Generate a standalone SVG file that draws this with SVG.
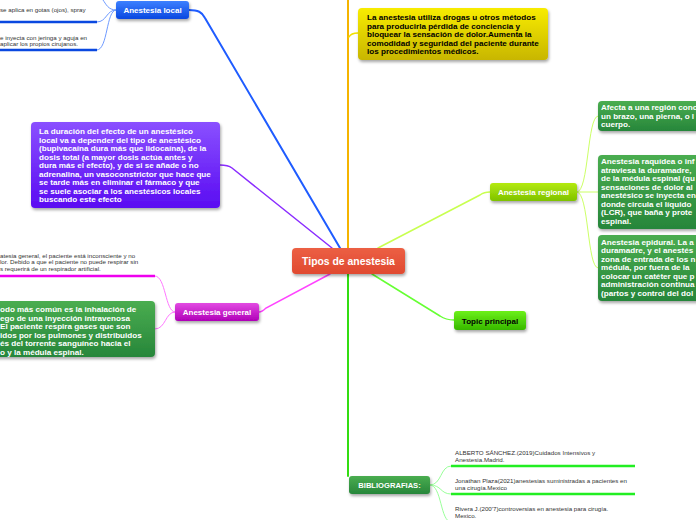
<svg xmlns="http://www.w3.org/2000/svg" width="696" height="520" viewBox="0 0 696 520">
<style>
.t{font-family:"Liberation Sans",Arial,sans-serif;font-weight:bold;font-size:8.1px;fill:#fff}
.tk{fill:#000}
.n{font-family:"Liberation Sans",Arial,sans-serif;font-size:6.2px;fill:#333}
.lbl{font-family:"Liberation Sans",Arial,sans-serif;font-weight:bold;font-size:8px;fill:#fff;text-anchor:middle}
.big{font-size:10.4px}
.bib{font-size:7.6px}
.c{fill:none;stroke-linecap:round}
</style>
<defs>
<filter id="sh" x="-10%" y="-20%" width="130%" height="160%"><feDropShadow dx="1" dy="2" stdDeviation="1.5" flood-color="#000" flood-opacity="0.35"/></filter>
<linearGradient id="gRed" x1="0" y1="0" x2="0" y2="1"><stop offset="0" stop-color="#ec5f44"/><stop offset="1" stop-color="#e04a30"/></linearGradient>
<linearGradient id="gBlue" x1="0" y1="0" x2="0" y2="1"><stop offset="0" stop-color="#3d80ff"/><stop offset="1" stop-color="#0a48e0"/></linearGradient>
<linearGradient id="gPur" x1="0" y1="0" x2="0" y2="1"><stop offset="0" stop-color="#8a50ff"/><stop offset="1" stop-color="#5a0cf2"/></linearGradient>
<linearGradient id="gYel" x1="0" y1="0" x2="0" y2="1"><stop offset="0" stop-color="#f8ec00"/><stop offset="1" stop-color="#c8b600"/></linearGradient>
<linearGradient id="gMag" x1="0" y1="0" x2="0" y2="1"><stop offset="0" stop-color="#e24ae2"/><stop offset="1" stop-color="#b000b8"/></linearGradient>
<linearGradient id="gGrn" x1="0" y1="0" x2="0" y2="1"><stop offset="0" stop-color="#4aad50"/><stop offset="1" stop-color="#27863a"/></linearGradient>
<linearGradient id="gReg" x1="0" y1="0" x2="0" y2="1"><stop offset="0" stop-color="#b4ea10"/><stop offset="1" stop-color="#7ec200"/></linearGradient>
<linearGradient id="gTop" x1="0" y1="0" x2="0" y2="1"><stop offset="0" stop-color="#6cf018"/><stop offset="1" stop-color="#36b800"/></linearGradient>
</defs>

<g id="connectors">
<path class="c" d="M340,248 L205,18 C202,12 198,10 189,10" stroke="#1f5cff" stroke-width="2"/>
<path class="c" d="M348,248 L348,0" stroke="#f5b400" stroke-width="2"/>
<path class="c" d="M349,37 Q351,33 358,33" stroke="#f0e000" stroke-width="1.5"/>
<path class="c" d="M332,248 L232,168 Q228,165 220,165" stroke="#8a2cff" stroke-width="1.5"/>
<path class="c" d="M378,248 L480,195 Q484,192 490,192" stroke="#c8ff50" stroke-width="1.5"/>
<path class="c" d="M348,274 L348,476" stroke="#33dd11" stroke-width="2"/>
<path class="c" d="M372,274 L440,316 Q446,320 454,320" stroke="#66ff33" stroke-width="1.5"/>
<path class="c" d="M330,274 L266,308 Q262,312 259,312" stroke="#ff44ff" stroke-width="1.5"/>
<path class="c" d="M116,10 C108,10 106,4 103,0" stroke="#6f9bff" stroke-width="1"/>
<path class="c" d="M116,10 C106,10 107,22 97,22" stroke="#6f9bff" stroke-width="1"/>
<path class="c" d="M116,10 C106,10 108,50 97,50" stroke="#6f9bff" stroke-width="1"/>
<path class="c" d="M175,312 C165,312 166,276 155,276" stroke="#ff77ff" stroke-width="1"/>
<path class="c" d="M175,312 C165,312 166,329 155,329" stroke="#ff77ff" stroke-width="1"/>
<path class="c" d="M577,192 C589,192 587,116 598,116" stroke="#ccff66" stroke-width="1"/>
<path class="c" d="M577,192 L598,192" stroke="#ccff66" stroke-width="1"/>
<path class="c" d="M577,192 C589,192 587,268 598,268" stroke="#ccff66" stroke-width="1"/>
<path class="c" d="M430,485 C442,485 440,466 451,466" stroke="#99ff99" stroke-width="1"/>
<path class="c" d="M430,485 C442,485 440,494 451,494" stroke="#99ff99" stroke-width="1"/>
<path class="c" d="M430,485 C442,485 440,522 451,522" stroke="#99ff99" stroke-width="1"/>
</g>

<g id="central">
<rect x="292" y="248" width="113" height="26" rx="4" fill="url(#gRed)" filter="url(#sh)"/>
<text class="lbl big" x="348.5" y="265">Tipos de anestesia</text>
</g>

<g id="anestesia-local">
<rect x="116" y="1" width="73" height="18" rx="3" fill="url(#gBlue)" filter="url(#sh)"/>
<text class="lbl" x="152.5" y="13">Anestesia local</text>
</g>
<g id="local-topica">
<text class="n" x="0" y="12">se aplica en gotas (ojos), spray</text>
<line x1="0" y1="22" x2="97" y2="22" stroke="#0a48e0" stroke-width="2.5"/>
</g>
<g id="local-infiltracion">
<text class="n" x="0" y="40">e inyecta con jeringa y aguja en</text>
<text class="n" x="0" y="46">aplicar los propios cirujanos.</text>
<line x1="0" y1="50" x2="97" y2="50" stroke="#0a48e0" stroke-width="2.5"/>
</g>

<g id="definicion">
<rect x="358" y="8" width="190" height="52" rx="4" fill="url(#gYel)" filter="url(#sh)"/>
<text class="t tk" x="367" y="20">La anestesia utiliza drogas u otros métodos</text>
<text class="t tk" x="367" y="28.5">para producirla pérdida de conciencia y</text>
<text class="t tk" x="367" y="37">bloquear la sensación de dolor.Aumenta la</text>
<text class="t tk" x="367" y="45.5">comodidad y seguridad del paciente durante</text>
<text class="t tk" x="367" y="54">los procedimientos médicos.</text>
</g>

<g id="duracion">
<rect x="31" y="122" width="189" height="86" rx="4" fill="url(#gPur)" filter="url(#sh)"/>
<text class="t" x="39" y="134">La duración del efecto de un anestésico</text>
<text class="t" x="39" y="142.5">local va a depender del tipo de anestésico</text>
<text class="t" x="39" y="151">(bupivacaína dura más que lidocaína), de la</text>
<text class="t" x="39" y="159.5">dosis total (a mayor dosis actúa antes y</text>
<text class="t" x="39" y="168">dura más el efecto), y de si se añade o no</text>
<text class="t" x="39" y="176.5">adrenalina, un vasoconstrictor que hace que</text>
<text class="t" x="39" y="185">se tarde más en eliminar el fármaco y que</text>
<text class="t" x="39" y="193.5">se suele asociar a los anestésicos locales</text>
<text class="t" x="39" y="202">buscando este efecto</text>
</g>

<g id="anestesia-general">
<rect x="175" y="303" width="84" height="18" rx="3" fill="url(#gMag)" filter="url(#sh)"/>
<text class="lbl" x="217" y="315">Anestesia general</text>
</g>
<g id="general-definicion">
<text class="n" x="0" y="257.5">atesia general, el paciente está inconsciente y no</text>
<text class="n" x="0" y="264">lor. Debido a que el paciente no puede respirar sin</text>
<text class="n" x="0" y="270.5">s requerirá de un respirador artificial.</text>
<line x1="0" y1="276" x2="155" y2="276" stroke="#ee00ee" stroke-width="2.5"/>
</g>
<g id="general-metodo">
<rect x="-10" y="301" width="165" height="56" rx="4" fill="url(#gGrn)" filter="url(#sh)"/>
<text class="t" x="0" y="312">odo más común es la inhalación de</text>
<text class="t" x="0" y="320.5">ego de una inyección intravenosa</text>
<text class="t" x="0" y="329">El paciente respira gases que son</text>
<text class="t" x="0" y="337.5">idos por los pulmones y distribuidos</text>
<text class="t" x="0" y="346">és del torrente sanguíneo hacia el</text>
<text class="t" x="0" y="354.5">o y la médula espinal.</text>
</g>

<g id="anestesia-regional">
<rect x="490" y="183" width="87" height="18" rx="3" fill="url(#gReg)" filter="url(#sh)"/>
<text class="lbl" x="533.5" y="195">Anestesia regional</text>
</g>
<g id="regional-1">
<rect x="598" y="101" width="110" height="30" rx="4" fill="url(#gGrn)" filter="url(#sh)"/>
<text class="t" x="601" y="110">Afecta a una región conc</text>
<text class="t" x="601" y="118.5">un brazo, una pierna, o l</text>
<text class="t" x="601" y="127">cuerpo.</text>
</g>
<g id="regional-raquidea">
<rect x="598" y="155" width="110" height="74" rx="4" fill="url(#gGrn)" filter="url(#sh)"/>
<text class="t" x="601" y="164">Anestesia raquídea o inf</text>
<text class="t" x="601" y="172.5">atraviesa la duramadre,</text>
<text class="t" x="601" y="181">de la médula espinal (qu</text>
<text class="t" x="601" y="189.5">sensaciones de dolor al</text>
<text class="t" x="601" y="198">anestésico se inyecta en</text>
<text class="t" x="601" y="206.5">donde circula el líquido</text>
<text class="t" x="601" y="215">(LCR), que baña y prote</text>
<text class="t" x="601" y="223.5">espinal.</text>
</g>
<g id="regional-epidural">
<rect x="598" y="235" width="110" height="66" rx="4" fill="url(#gGrn)" filter="url(#sh)"/>
<text class="t" x="601" y="244.5">Anestesia epidural. La a</text>
<text class="t" x="601" y="253">duramadre, y el anestés</text>
<text class="t" x="601" y="261.5">zona de entrada de los n</text>
<text class="t" x="601" y="270">médula, por fuera de la</text>
<text class="t" x="601" y="278.5">colocar un catéter que p</text>
<text class="t" x="601" y="287">administración continua</text>
<text class="t" x="601" y="295.5">(partos y control del dol</text>
</g>

<g id="topic-principal">
<rect x="454" y="311" width="72" height="19" rx="3" fill="url(#gTop)" filter="url(#sh)"/>
<text class="lbl" x="490" y="323.5" style="fill:#000">Topic principal</text>
</g>

<g id="bibliografias">
<rect x="349" y="476" width="81" height="18" rx="3" fill="url(#gGrn)" filter="url(#sh)"/>
<text class="lbl bib" x="389.5" y="487.8">BIBLIOGRAFIAS:</text>
</g>
<g id="bib-1">
<text class="n" x="455" y="455">ALBERTO SÁNCHEZ.(2019)Cuidados Intensivos y</text>
<text class="n" x="455" y="462">Anestesia.Madrid.</text>
<line x1="451" y1="466" x2="635" y2="466" stroke="#22ee22" stroke-width="2.5"/>
</g>
<g id="bib-2">
<text class="n" x="455" y="483">Jonathan Plaza(2021)anestesias suministradas a pacientes en</text>
<text class="n" x="455" y="490">una cirugía.Mexico</text>
<line x1="451" y1="494" x2="635" y2="494" stroke="#22ee22" stroke-width="2.5"/>
</g>
<g id="bib-3">
<text class="n" x="455" y="511">Rivera J.(200'7)controversias en anestesia para cirugía.</text>
<text class="n" x="455" y="518">Mexico.</text>
</g>
</svg>
